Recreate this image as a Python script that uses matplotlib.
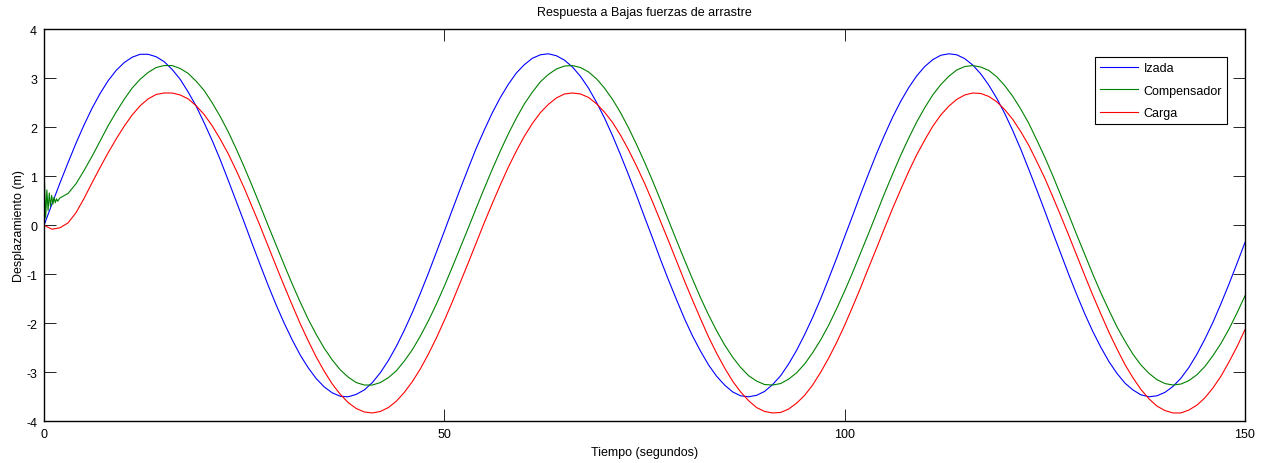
import numpy as np
import matplotlib
matplotlib.use("Agg")
import matplotlib.pyplot as plt

plt.rcParams['font.family'] = ['Liberation Sans', 'DejaVu Sans']
plt.rcParams['axes.unicode_minus'] = False

# tiempo en segundos, un valor por segundo
tiempo = np.arange(0, 151)

izada = [0.00, 0.44, 0.87, 1.28, 1.68, 2.05, 2.39, 2.69, 2.95, 3.16, 3.32, 3.43, 3.49, 3.49, 3.44, 3.34,
         3.18, 2.98, 2.72, 2.43, 2.09, 1.73, 1.34, 0.92, 0.49, 0.06, -0.38, -0.81, -1.23, -1.63, -2.00,
         -2.34, -2.65, -2.91, -3.13, -3.30, -3.42, -3.49, -3.50, -3.45, -3.36, -3.21, -3.01, -2.76, -2.47,
         -2.14, -1.78, -1.39, -0.98, -0.55, -0.12,
         0.32, 0.75, 1.17, 1.58, 1.95, 2.30, 2.61, 2.88, 3.11, 3.28, 3.41, 3.48, 3.50, 3.46, 3.37, 3.23,
         3.04, 2.80, 2.51, 2.19, 1.83, 1.44, 1.03, 0.61, 0.17, -0.26, -0.70, -1.12, -1.52, -1.91, -2.26,
         -2.57, -2.85, -3.08, -3.26, -3.40, -3.48, -3.50, -3.47, -3.39, -3.25, -3.07, -2.83, -2.55, -2.23,
         -1.88, -1.50, -1.09, -0.67, -0.23,
         0.20, 0.64, 1.06, 1.47, 1.85, 2.21, 2.53, 2.81, 3.05, 3.24, 3.38, 3.47, 3.50, 3.48, 3.40, 3.27,
         3.09, 2.86, 2.59, 2.28, 1.93, 1.55, 1.14, 0.72, 0.29, -0.15, -0.58, -1.01, -1.42, -1.81, -2.17,
         -2.49, -2.78, -3.02, -3.22, -3.36, -3.46, -3.50, -3.48, -3.41, -3.29, -3.12, -2.90, -2.63, -2.32,
         -1.98, -1.60, -1.20, -0.78, -0.35]

compensador = [0.00, 0.50, 0.56, 0.65, 0.85, 1.12, 1.41, 1.72, 2.03, 2.31, 2.57, 2.80, 2.98, 3.12, 3.22,
               3.26, 3.26, 3.20, 3.10, 2.94, 2.75, 2.50, 2.22, 1.91, 1.56, 1.19, 0.80, 0.40, -0.01, -0.41,
               -0.81, -1.20, -1.57, -1.92, -2.23, -2.51, -2.75, -2.95, -3.10, -3.21, -3.26, -3.26, -3.21,
               -3.11, -2.97, -2.77, -2.54, -2.26, -1.95, -1.61, -1.24, -0.85, -0.45, -0.05, 0.36, 0.76,
               1.15, 1.52, 1.87, 2.19, 2.48, 2.72, 2.93, 3.08, 3.19, 3.25, 3.26, 3.22, 3.13, 2.99, 2.80,
               2.57, 2.30, 1.99, 1.65, 1.29, 0.91, 0.51, 0.10, -0.31, -0.71, -1.10, -1.48, -1.83, -2.15,
               -2.44, -2.69, -2.90, -3.07, -3.18, -3.25, -3.26, -3.23, -3.14, -3.01, -2.83, -2.60, -2.34,
               -2.04, -1.70, -1.34, -0.96, -0.56, -0.16, 0.25, 0.66, 1.05, 1.43, 1.78, 2.11, 2.40, 2.66,
               2.87, 3.04, 3.17, 3.24, 3.26, 3.23, 3.16, 3.03, 2.85, 2.63, 2.37, 2.08, 1.74, 1.39, 1.01,
               0.61, 0.21, -0.20, -0.60, -1.00, -1.38, -1.73, -2.07, -2.36, -2.63, -2.85, -3.02, -3.15,
               -3.23, -3.26, -3.24, -3.17, -3.05, -2.88, -2.66, -2.41, -2.12, -1.79, -1.44]

# oscilacion inicial del compensador (primeros 2 s)
t_osc = [0.0, 0.05, 0.2, 0.35, 0.5, 0.65, 0.8, 0.95, 1.1, 1.25, 1.4, 1.55, 1.7, 1.85]
comp_osc = [0.00, 0.90, 0.15, 0.72, 0.30, 0.66, 0.38, 0.61, 0.43, 0.57, 0.46, 0.54, 0.49, 0.53]

carga = [0.00, -0.08, -0.05, 0.05, 0.26, 0.55, 0.87, 1.18, 1.48, 1.76, 2.02, 2.25, 2.44, 2.58, 2.67, 2.70,
         2.70, 2.66, 2.58, 2.44, 2.26, 2.03, 1.76, 1.46, 1.12, 0.76, 0.37, -0.02, -0.43, -0.84, -1.24,
         -1.63, -2.01, -2.36, -2.69, -2.98, -3.24, -3.45, -3.62, -3.74, -3.81, -3.83, -3.80, -3.72, -3.59,
         -3.41, -3.19, -2.93, -2.63, -2.30, -1.94, -1.56, -1.16, -0.76, -0.35, 0.06, 0.45, 0.83, 1.19,
         1.52, 1.82, 2.08, 2.30, 2.47, 2.60, 2.68, 2.70, 2.68, 2.61, 2.48, 2.31, 2.10, 1.84, 1.54, 1.21,
         0.86, 0.48, 0.08, -0.32, -0.73, -1.14, -1.53, -1.91, -2.28, -2.61, -2.91, -3.18, -3.40, -3.58,
         -3.72, -3.80, -3.83, -3.82, -3.75, -3.63, -3.47, -3.26, -3.00, -2.71, -2.39, -2.04, -1.66, -1.27,
         -0.86, -0.46, -0.05, 0.35, 0.73, 1.10, 1.44, 1.74, 2.02, 2.25, 2.43, 2.57, 2.66, 2.70, 2.69,
         2.63, 2.52, 2.36, 2.16, 1.91, 1.63, 1.30, 0.96, 0.58, 0.19, -0.21, -0.62, -1.03, -1.43, -1.81,
         -2.18, -2.52, -2.84, -3.11, -3.35, -3.54, -3.69, -3.78, -3.83, -3.83, -3.77, -3.67, -3.52,
         -3.32, -3.08, -2.79, -2.48, -2.13]

x_ticks = [0, 50, 100, 150]
y_ticks = [-4, -3, -2, -1, 0, 1, 2, 3, 4]

fig = plt.figure(figsize=(12.7, 4.64), dpi=100)
ax = fig.add_axes([0.0347, 0.0899, 0.9456, 0.8448])

t_comp = np.concatenate([t_osc, tiempo[2:]])
y_comp = np.concatenate([comp_osc, compensador[2:]])

ax.plot(tiempo, izada, color=(0, 0, 1), lw=0.8, label='Izada')
ax.plot(t_comp, y_comp, color=(0, 0.5, 0), lw=0.8, label='Compensador')
ax.plot(tiempo, carga, color=(1, 0, 0), lw=0.8, label='Carga')

ax.set_xlim(0, 150)
ax.set_ylim(-4, 4)
ax.set_xticks(x_ticks)
ax.set_yticks(y_ticks)
ax.tick_params(direction='in', top=True, right=True, length=8.5, width=0.6, labelsize=9, pad=5)
for s in ax.spines.values():
    s.set_linewidth(1.0)

ax.set_title('Respuesta a Bajas fuerzas de arrastre', fontsize=9, pad=10)
ax.set_xlabel('Tiempo (segundos)', fontsize=9, labelpad=4)
ax.set_ylabel('Desplazamiento (m)', fontsize=9, labelpad=1)

leg = ax.legend(loc='upper right', bbox_to_anchor=(0.9661, 0.875), bbox_transform=fig.transFigure,
                borderaxespad=0, fontsize=9, handlelength=3.0, handletextpad=0.45, labelspacing=0.85,
                fancybox=False, framealpha=1, edgecolor='black', borderpad=0.4)
leg.get_frame().set_linewidth(0.8)

fig.savefig('out.png', dpi=100)
